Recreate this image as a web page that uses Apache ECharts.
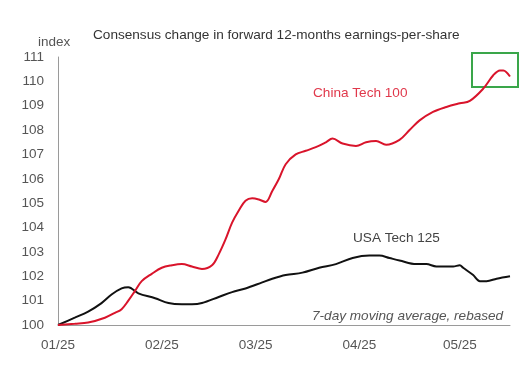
<!DOCTYPE html>
<html>
<head>
<meta charset="utf-8">
<script src="https://cdn.jsdelivr.net/npm/echarts@6/dist/echarts.min.js"></script>
<style>
html,body{margin:0;padding:0;background:#fff;}
#chart{width:529px;height:380px;}
</style>
</head>
<body>
<div id="chart"></div>
<script>
// Days since 01 Jan 2025
const xTickDays = [0, 31, 59, 90, 120];
const xTickLabels = ['01/25', '02/25', '03/25', '04/25', '05/25'];
const yTicks = [100, 101, 102, 103, 104, 105, 106, 107, 108, 109, 110, 111];

const chinaDays = [0, 5, 9, 14, 17, 19, 21, 23, 25, 28, 31, 34, 37, 40, 43, 46, 48, 50, 52, 54, 56, 58, 60, 62, 64, 66, 68, 71, 74, 77, 80, 82, 85, 89, 92, 95, 98, 102, 105, 108, 112, 116, 120, 123, 127, 130, 132, 133, 135];
const chinaValues = [100.0, 100.05, 100.1, 100.3, 100.5, 100.65, 101.0, 101.4, 101.8, 102.1, 102.35, 102.45, 102.5, 102.4, 102.3, 102.45, 102.9, 103.5, 104.2, 104.7, 105.1, 105.2, 105.15, 105.05, 105.5, 106.0, 106.6, 107.0, 107.15, 107.3, 107.5, 107.65, 107.45, 107.35, 107.5, 107.55, 107.4, 107.6, 108.0, 108.4, 108.75, 108.95, 109.1, 109.2, 109.7, 110.25, 110.45, 110.45, 110.2];

const usaDays = [0, 5, 9, 13, 16, 19, 21, 24, 29, 33, 37, 40, 43, 48, 52, 56, 61, 64, 68, 73, 78, 83, 88, 93, 96, 99, 102, 107, 110, 113, 118, 120, 121, 124, 126, 128, 131, 135];
const usaValues = [100.0, 100.3, 100.55, 100.9, 101.25, 101.5, 101.55, 101.3, 101.1, 100.9, 100.85, 100.85, 100.9, 101.15, 101.35, 101.5, 101.75, 101.9, 102.05, 102.15, 102.35, 102.5, 102.75, 102.85, 102.85, 102.75, 102.65, 102.5, 102.5, 102.4, 102.4, 102.45, 102.35, 102.05, 101.8, 101.8, 101.9, 102.0];

const chinaName = 'China Tech 100';
const usaName = 'USA Tech 125';

const chart = echarts.init(document.getElementById('chart'));
const font = '"Liberation Sans", Arial, sans-serif';

chart.setOption({
  animation: false,
  backgroundColor: '#fff',
  grid: { left: 58, right: 19, top: 57, bottom: 55, containLabel: false },
  xAxis: {
    type: 'value', min: 0, max: 135,
    axisLine: { show: true, lineStyle: { color: '#9a9a9a', width: 1 } },
    axisTick: { show: false },
    splitLine: { show: false },
    axisLabel: {
      customValues: xTickDays,
      formatter: v => xTickLabels[xTickDays.indexOf(v)] || '',
      color: '#555', fontSize: 13.5, fontFamily: font, margin: 13
    }
  },
  yAxis: {
    type: 'value', min: yTicks[0], max: yTicks[yTicks.length - 1], interval: 1,
    axisLine: { show: true, lineStyle: { color: '#9a9a9a', width: 1 } },
    axisTick: { show: false },
    splitLine: { show: false },
    axisLabel: { color: '#555', fontSize: 13.5, fontFamily: font, margin: 14 }
  },
  series: [
    {
      name: chinaName, type: 'line', showSymbol: false, smooth: 0.35,
      data: chinaDays.map((d, i) => [d, chinaValues[i]]),
      lineStyle: { color: '#d9142b', width: 2 }, z: 3
    },
    {
      name: usaName, type: 'line', showSymbol: false, smooth: 0.35,
      data: usaDays.map((d, i) => [d, usaValues[i]]),
      lineStyle: { color: '#111', width: 2 }, z: 2
    }
  ],
  graphic: [
    { type: 'text', left: 93, top: 28, style: { text: 'Consensus change in forward 12-months earnings-per-share', fill: '#333', font: '13.6px ' + font } },
    { type: 'text', left: 38, top: 35, style: { text: 'index', fill: '#555', font: '13.5px ' + font } },
    { type: 'text', left: 313, top: 86, style: { text: chinaName, fill: '#e0384b', font: '13.6px ' + font } },
    { type: 'text', left: 353, top: 231, style: { text: usaName, fill: '#444', font: '13.6px ' + font } },
    { type: 'text', left: 312, top: 309, style: { text: '7-day moving average, rebased', fill: '#555', font: 'italic 13.6px ' + font } },
    { type: 'rect', shape: { x: 472, y: 53, width: 46, height: 34 }, style: { fill: 'none', stroke: '#3aa64a', lineWidth: 2 } }
  ]
});
</script>
</body>
</html>
